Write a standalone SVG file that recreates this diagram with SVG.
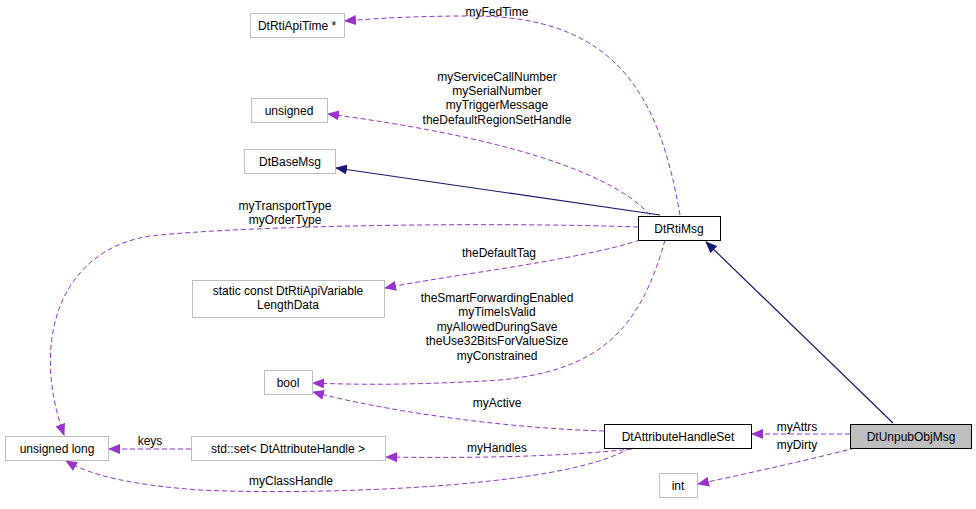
<svg xmlns="http://www.w3.org/2000/svg" width="976" height="509" viewBox="0 0 976 509">
<style>
text{font-family:"Liberation Sans",Arial,sans-serif;font-size:12px;fill:#000}
.g rect{fill:#fff;stroke:#bfbfbf}
.b rect{fill:#fff;stroke:#000}
.nav{fill:none;stroke:#191970;stroke-width:1.2}
.pur{fill:none;stroke:#9a32cd;stroke-dasharray:5,3}
</style>
<defs>
<marker id="an" markerWidth="12" markerHeight="10" refX="11" refY="5" orient="auto" markerUnits="userSpaceOnUse"><path d="M0,0L12,5L0,10z" fill="#191970"/></marker>
<marker id="ap" markerWidth="12" markerHeight="10" refX="11" refY="5" orient="auto" markerUnits="userSpaceOnUse"><path d="M0,0L12,5L0,10z" fill="#9a32cd"/></marker>
</defs>
<rect width="976" height="509" fill="#fff"/>
<g id="edges">
<path class="nav" d="M660,215L336,168" marker-end="url(#an)"/>
<path class="nav" d="M893,423L706,242" marker-end="url(#an)"/>
<path class="pur" d="M680,215C660,100 620,15 470,16C420,16 380,18 345,21" marker-end="url(#ap)"/>
<path class="pur" d="M650,215C600,160 450,130 328,114" marker-end="url(#ap)"/>
<path class="pur" d="M638,227C500,222 250,225 150,236C60,250 30,340 64,435" marker-end="url(#ap)"/>
<path class="pur" d="M640,240C580,260 450,275 385,288" marker-end="url(#ap)"/>
<path class="pur" d="M665,240C640,330 600,370 500,380C420,385 360,385 313,383" marker-end="url(#ap)"/>
<path class="pur" d="M604,431C500,428 380,410 313,392" marker-end="url(#ap)"/>
<path class="pur" d="M850,434L752,434" marker-end="url(#ap)"/>
<path class="pur" d="M855,448C800,462 740,475 698,484" marker-end="url(#ap)"/>
<path class="pur" d="M640,448C560,458 450,458 386,457" marker-end="url(#ap)"/>
<path class="pur" d="M191,449L109,449" marker-end="url(#ap)"/>
<path class="pur" d="M630,448C560,490 300,495 200,490C130,485 90,475 66,461" marker-end="url(#ap)"/>
</g>
<g id="labels" text-anchor="middle">
<text x="497" y="16">myFedTime</text>
<text x="497" y="81">myServiceCallNumber</text>
<text x="497" y="95">mySerialNumber</text>
<text x="497" y="109">myTriggerMessage</text>
<text x="497" y="124">theDefaultRegionSetHandle</text>
<text x="285" y="210">myTransportType</text>
<text x="285" y="224">myOrderType</text>
<text x="499" y="257">theDefaultTag</text>
<text x="497" y="302">theSmartForwardingEnabled</text>
<text x="497" y="316">myTimeIsValid</text>
<text x="497" y="331">myAllowedDuringSave</text>
<text x="497" y="345">theUse32BitsForValueSize</text>
<text x="497" y="360">myConstrained</text>
<text x="497" y="407">myActive</text>
<text x="797" y="431">myAttrs</text>
<text x="797" y="449">myDirty</text>
<text x="497" y="452">myHandles</text>
<text x="150" y="445">keys</text>
<text x="291" y="485">myClassHandle</text>
</g>
<g id="n1" class="g"><rect x="250.5" y="13.5" width="94" height="24"/><text x="297" y="30" text-anchor="middle">DtRtiApiTime *</text></g>
<g id="n2" class="g"><rect x="251.5" y="98.5" width="76" height="24"/><text x="289" y="115" text-anchor="middle">unsigned</text></g>
<g id="n3" class="g"><rect x="244.5" y="149.5" width="91" height="24"/><text x="290" y="166" text-anchor="middle">DtBaseMsg</text></g>
<g id="n4" class="g"><rect x="192.5" y="280.5" width="192" height="37"/><text x="288" y="295" text-anchor="middle">static const DtRtiApiVariable</text><text x="288" y="309" text-anchor="middle">LengthData</text></g>
<g id="n5" class="g"><rect x="264.5" y="370.5" width="48" height="24"/><text x="288" y="387" text-anchor="middle">bool</text></g>
<g id="n6" class="g"><rect x="5.5" y="436.5" width="103" height="24"/><text x="57" y="453" text-anchor="middle">unsigned long</text></g>
<g id="n7" class="g"><rect x="191.5" y="436.5" width="194" height="24"/><text x="288" y="453" text-anchor="middle">std::set&lt; DtAttributeHandle &gt;</text></g>
<g id="n8" class="g"><rect x="659.5" y="473.5" width="38" height="24"/><text x="678" y="490" text-anchor="middle">int</text></g>
<g id="n9" class="b"><rect x="638.5" y="216.5" width="82" height="24"/><text x="679" y="233" text-anchor="middle">DtRtiMsg</text></g>
<g id="n10" class="b"><rect x="604.5" y="424.5" width="147" height="24"/><text x="678" y="441" text-anchor="middle">DtAttributeHandleSet</text></g>
<g id="n11"><rect x="850.5" y="424.5" width="121" height="24" fill="#bfbfbf" stroke="#000"/><text x="911" y="441" text-anchor="middle">DtUnpubObjMsg</text></g>
</svg>
